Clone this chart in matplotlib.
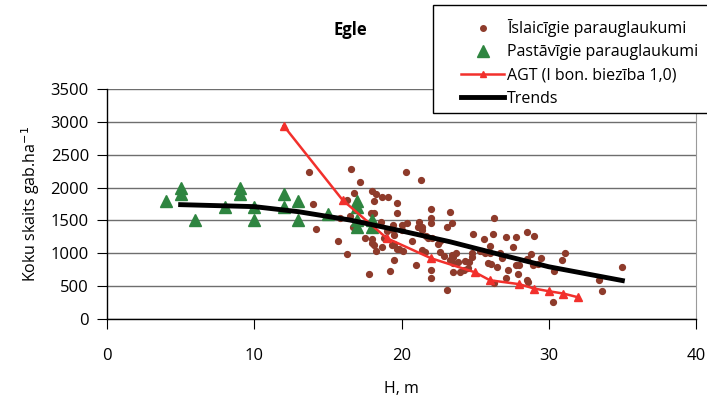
import matplotlib
matplotlib.use("Agg")
import matplotlib.pyplot as plt
from matplotlib.lines import Line2D
from matplotlib.patches import Rectangle

plt.rcParams['font.family'] = ['Open Sans', 'DejaVu Sans']

# Īslaicīgie parauglaukumi (short-term plots)
isl_h = [13.7, 14.0, 14.2, 15.7, 15.8, 16.3, 16.3, 16.5, 16.6, 16.7, 16.8, 17.2, 17.5, 17.8,
         17.9, 18.0, 18.1, 18.1, 18.0, 18.0, 18.1, 18.3, 18.3, 18.6, 18.7, 18.7, 18.8, 19.0,
         19.1, 19.2, 19.35, 19.4, 19.4, 19.5, 19.5, 19.5, 19.7, 19.7, 19.7, 19.85, 20.0, 20.0,
         20.1, 20.3, 20.35, 20.7, 21.0, 21.1, 21.2, 21.3, 21.4, 21.4, 21.4, 21.6, 21.65, 21.8,
         22.0, 22.0, 22.0, 22.0, 22.0, 22.1, 22.5, 22.6, 22.6, 22.9, 23.1, 23.1, 23.3, 23.3,
         23.4, 23.4, 23.5, 23.5, 23.5, 23.7, 23.85, 23.97, 24.25, 24.3, 24.5, 24.6, 24.8, 24.8,
         24.85, 25.3, 25.5, 25.6, 25.7, 25.9, 26.0, 26.0, 26.1, 26.2, 26.3, 26.3, 26.5, 26.7,
         26.8, 27.07, 27.1, 27.2, 27.6, 27.8, 27.8, 27.9, 28.0, 28.5, 28.5, 28.5, 28.6, 28.8,
         29.0, 28.9, 29.3, 29.5, 30.3, 30.35, 30.9, 31.1, 33.4, 33.6, 35.0]
isl_n = [2230, 1750, 1370, 1190, 1530, 1810, 990, 1570, 2280, 1400, 1910, 2090, 1230, 690,
         1620, 1950, 1620, 1790, 1210, 1150, 1120, 1900, 1040, 1470, 1850, 1090, 1240, 1340,
         1850, 730, 1120, 1430, 1350, 1280, 1140, 900, 1770, 1610, 1070, 1060, 1430, 1360,
         1040, 2240, 1460, 1190, 820, 1400, 1470, 2110, 1400, 1350, 1050, 1020, 1260, 1240,
         1680, 1530, 1460, 750, 620, 1240, 1140, 1180, 1020, 960, 1400, 440, 1630, 900,
         1460, 970, 940, 850, 720, 1000, 860, 720, 745, 890, 780, 870, 940, 1010,
         1290, 1040, 1030, 1210, 1010, 850, 1110, 1010, 830, 1290, 1530, 550, 790, 1010,
         930, 1250, 630, 750, 1090, 1250, 820, 690, 820, 1330, 910, 600, 570, 990,
         1270, 820, 830, 930, 260, 730, 900, 1000, 600, 420, 790]

# Pastāvīgie parauglaukumi (permanent plots)
pas_h = [4, 5, 5, 6, 8, 9, 9, 10, 10, 12, 12, 13, 13, 15, 17, 17, 17, 17, 18, 18]
pas_n = [1800, 2000, 1900, 1500, 1700, 2000, 1900, 1700, 1500, 1900, 1700, 1800, 1500, 1600,
         1800, 1700, 1500, 1400, 1500, 1400]

# AGT (I bon. biezība 1,0)
agt_h = [12, 16, 19, 22, 25, 26, 28, 29, 30, 31, 32]
agt_n = [2940, 1810, 1230, 925, 710, 590, 530, 464, 423, 387, 330]

# Trends
tr_h = [5, 10, 13, 16.5, 20, 23.3, 26, 30, 35]
tr_n = [1740, 1710, 1633, 1506, 1340, 1175, 1020, 795, 585]

xticks = [0, 10, 20, 30, 40]
yticks = [0, 500, 1000, 1500, 2000, 2500, 3000, 3500]

W, H = 707, 396
fig = plt.figure(figsize=(W / 100, H / 100), dpi=100)
ax = fig.add_axes([107 / W, 1 - 319 / H, (696 - 107) / W, (319 - 89) / H])

brown = '#8e3b2b'
green = '#2e8540'
red = '#f2302c'

ax.plot(isl_h, isl_n, 'o', color=brown, markersize=4.2, linestyle='none', zorder=3)
ax.plot(pas_h, pas_n, '^', color=green, markersize=8.5, linestyle='none', zorder=4)
ax.plot(agt_h, agt_n, '-^', color=red, lw=1.8, markersize=5.5, zorder=5)
ax.plot(tr_h, tr_n, '-', color='black', lw=3.5, zorder=6)

ax.set_xlim(0, 40)
ax.set_ylim(0, 3500)
ax.set_xticks(xticks)
ax.set_yticks(yticks)
ax.yaxis.grid(True, color='#6e6e6e', lw=1.0)
ax.set_axisbelow(True)
for s in ['top']:
    ax.spines[s].set_visible(False)
ax.spines['right'].set_color('#9a9a9a')
ax.spines['left'].set_linewidth(1.0)
ax.spines['bottom'].set_linewidth(1.0)
ax.tick_params(axis='x', direction='out', length=7, pad=14, labelsize=12)
ax.tick_params(axis='y', direction='out', length=7, pad=6, labelsize=12)
ax.set_xlabel('H, m', fontsize=11.5, labelpad=12)
ax.set_ylabel('Koku skaits gab.ha$^{-1}$', fontsize=11.5, labelpad=6)

fig.text(350 / W, 1 - 30 / H, 'Egle', fontsize=12, fontweight='bold', ha='center', va='center')

# legend box
fig.patches.append(Rectangle((433 / W, 1 - 113 / H), 300 / W, 108 / H, transform=fig.transFigure,
                             fill=True, facecolor='white', edgecolor='black', lw=1.0, zorder=10))
handles = [
    Line2D([], [], marker='o', color=brown, markersize=4, linestyle='none'),
    Line2D([], [], marker='^', color=green, markersize=8, linestyle='none'),
    Line2D([], [], marker='^', color=red, markersize=5, lw=1.8),
    Line2D([], [], color='black', lw=3.5),
]
labels = ['Īslaicīgie parauglaukumi', 'Pastāvīgie parauglaukumi', 'AGT (I bon. biezība 1,0)', 'Trends']
leg = fig.legend(handles, labels, loc='upper left', bbox_to_anchor=(450 / W, 1 - 8 / H),
                 frameon=False, fontsize=11.5, handlelength=2.7, handletextpad=0.15,
                 labelspacing=0.45, borderpad=0.2)
leg.set_zorder(11)

fig.savefig('out.png', dpi=100)
